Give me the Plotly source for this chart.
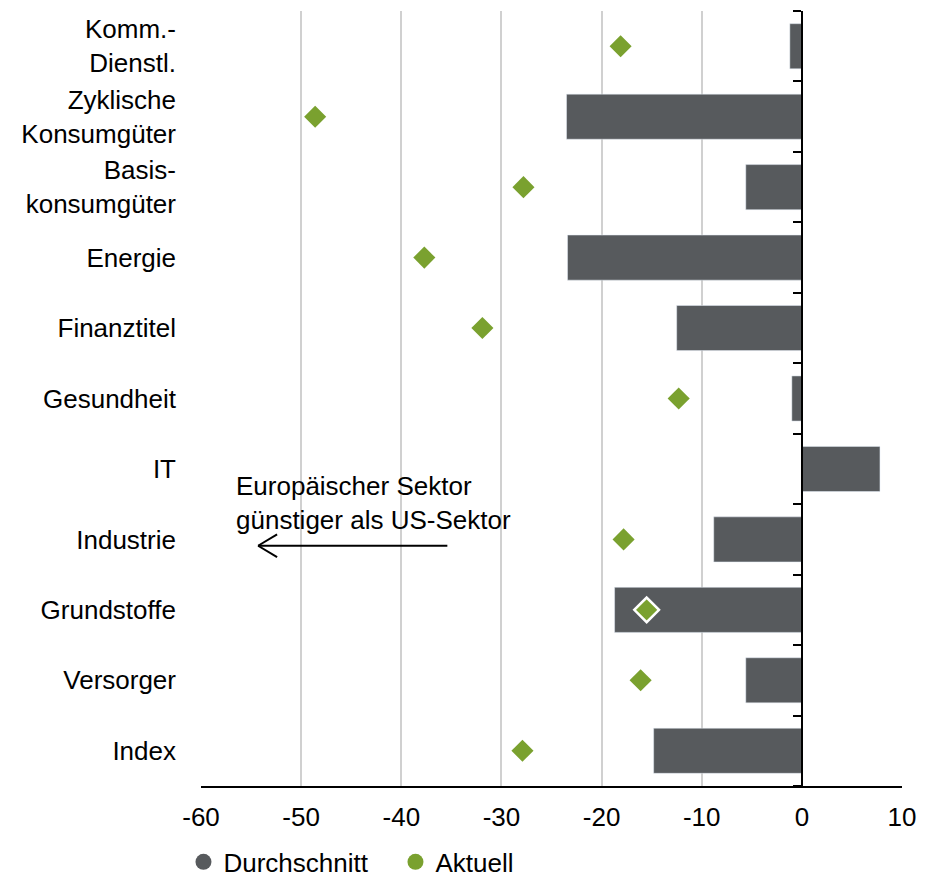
import plotly.graph_objects as go

categories = ["Komm.-<br>Dienstl.", "Zyklische<br>Konsumgüter", "Basis-<br>konsumgüter", "Energie",
              "Finanztitel", "Gesundheit", "IT", "Industrie", "Grundstoffe", "Versorger", "Index"]
durchschnitt = [-1.2, -23.5, -5.6, -23.4, -12.5, -1.0, 7.8, -8.8, -18.7, -5.6, -14.8]
aktuell = [-18.1, -48.6, -27.8, -37.7, -31.9, -12.3, None, -17.8, -15.5, -16.1, -27.9]
x_tickvals = [-60, -50, -40, -30, -20, -10, 0, 10]
x_ticktext = ["-60", "-50", "-40", "-30", "-20", "-10", "0", "10"]

DARK = "#575a5d"
GREEN = "#7aa12f"
FONT = "Liberation Sans, Arial, sans-serif"

highlight = "Grundstoffe"
line_w = [2.5 if c == highlight else 0 for c in categories]
sizes = [19 if c == highlight else 17 for c in categories]

fig = go.Figure()
fig.add_trace(go.Bar(x=durchschnitt, y=categories, orientation="h", marker=dict(color=DARK),
                     showlegend=False, width=0.64, name="Durchschnitt"))
fig.add_trace(go.Scatter(x=aktuell, y=categories, mode="markers", showlegend=False, name="Aktuell",
                         marker=dict(symbol="diamond", size=sizes, color=GREEN, opacity=1,
                                     line=dict(color="white", width=line_w))))
# legend entries
fig.add_trace(go.Scatter(x=[None], y=[None], mode="markers", name="Durchschnitt",
                         marker=dict(symbol="circle", size=16, color=DARK)))
fig.add_trace(go.Scatter(x=[None], y=[None], mode="markers", name="Aktuell",
                         marker=dict(symbol="circle", size=16, color=GREEN)))
# zero-axis with boundary ticks
n = len(categories)
fig.add_trace(go.Scatter(x=[None], y=[None], yaxis="y2", showlegend=False, hoverinfo="skip"))

fig.update_layout(
    width=930, height=877,
    margin=dict(l=193, r=36, t=3, b=99, autoexpand=False),
    plot_bgcolor="white", paper_bgcolor="white",
    font=dict(family=FONT, size=26, color="black"),
    xaxis=dict(range=[-60, 10], tickvals=x_tickvals, ticktext=x_ticktext,
               showgrid=True, gridcolor="#d0d0d0", gridwidth=1.5,
               showline=True, linecolor="black", linewidth=2,
               zeroline=False, ticks="", ticklabelstandoff=7, automargin=False,
               tickfont=dict(size=26)),
    yaxis=dict(type="category", range=[n - 0.5, -0.5], showgrid=False, zeroline=False,
               ticks="", ticklabelstandoff=24, automargin=False, tickfont=dict(size=26)),
    yaxis2=dict(overlaying="y", anchor="free", position=60 / 70, side="left",
                range=[n - 0.5, -0.5], showgrid=False, zeroline=False, automargin=False,
                showline=True, linecolor="black", linewidth=2,
                ticks="outside", ticklen=8, tickwidth=2, tickcolor="black",
                tickvals=[i - 0.5 for i in range(n + 1)], showticklabels=False),
    legend=dict(orientation="h", x=-0.025, xanchor="left", y=-0.098, yanchor="middle",
                font=dict(size=26), entrywidth=167, entrywidthmode="pixels",
                bgcolor="rgba(0,0,0,0)"),
    bargap=0.36,
)

fig.add_annotation(x=-56.7, y=6.48, xref="x", yref="y", xanchor="left", yanchor="middle",
                   text="Europäischer Sektor<br>günstiger als US-Sektor", align="left",
                   showarrow=False, font=dict(size=26))

arrow_y = 7.09
fig.add_shape(type="line", x0=-35.4, x1=-54.3, y0=arrow_y, y1=arrow_y, xref="x", yref="y",
              line=dict(color="black", width=2))
fig.add_shape(type="line", x0=-54.3, x1=-52.4, y0=arrow_y, y1=arrow_y - 0.16, xref="x", yref="y",
              line=dict(color="black", width=2))
fig.add_shape(type="line", x0=-54.3, x1=-52.4, y0=arrow_y, y1=arrow_y + 0.16, xref="x", yref="y",
              line=dict(color="black", width=2))

fig.write_html("out.html")
